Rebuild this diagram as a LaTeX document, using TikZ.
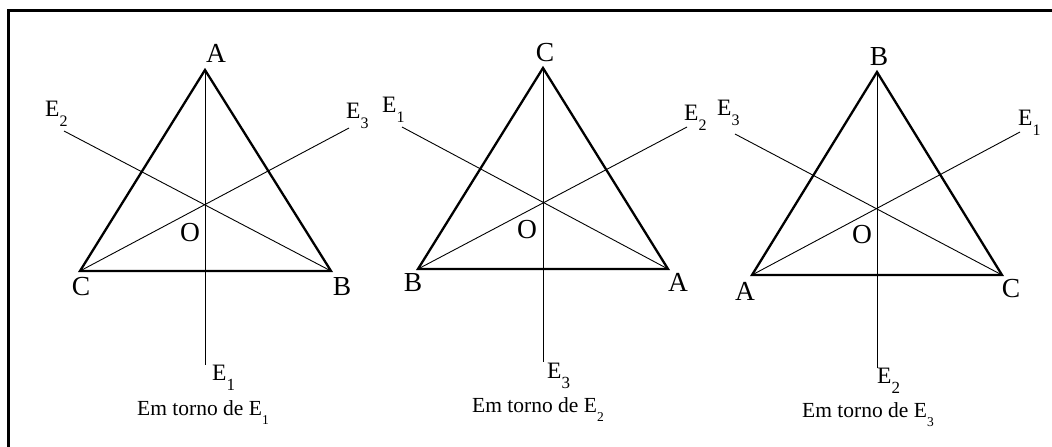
\documentclass[tikz,border=0pt]{standalone}
\usepackage{fontspec}
\setmainfont{Liberation Serif}
\newcommand{\Esub}[2][16]{E\raisebox{-0.45em}{\fontsize{#1}{#1}\selectfont #2}}
\begin{document}
\begin{tikzpicture}[x=1pt,y=-1pt,
  tri/.style={line width=2.3pt, line join=miter},
  axisline/.style={line width=0.9pt},
  vlab/.style={font=\fontsize{27.5}{27.5}\selectfont, inner sep=0pt},
  elab/.style={font=\fontsize{23.5}{23.5}\selectfont, inner sep=0pt, anchor=base west},
  caplab/.style={font=\fontsize{21.5}{21.5}\selectfont, inner sep=0pt, anchor=base}]
\useasboundingbox (0,0) rectangle (1052,447);
% frame
\coordinate (fbl) at (8.7,447);
\coordinate (ftl) at (8.7,10.5);
\coordinate (ftr) at (1052,10.5);
\draw[line width=2.6pt] (fbl) -- (ftl) -- (ftr);

% ---------- triangle 1 ----------
\coordinate (A1) at (205,70);
\coordinate (B1) at (331,271);
\coordinate (C1) at (80,271);
\coordinate (v1) at (205,365);
\coordinate (l1) at (64,131);
\coordinate (r1) at (349,128);
\draw[axisline] (A1) -- (v1);
\draw[axisline] (l1) -- (B1);
\draw[axisline] (C1) -- (r1);
\draw[tri] (A1) -- (B1) -- (C1) -- cycle;
\node[vlab] (tA1) at (216,53) {A};
\node[vlab] (tB1) at (342,287) {B};
\node[vlab] (tC1) at (81,287) {C};
\node[vlab] (tO1) at (190,233) {O};
\node[elab] (e12) at (45,116) {\Esub{2}};
\node[elab] (e13) at (346,118) {\Esub{3}};
\node[elab] (e11) at (212,380) {\Esub[17]{1}};
\node[caplab] (cap1) at (203,415) {Em torno de \Esub[13.5]{1}};

% ---------- triangle 2 ----------
\coordinate (C2) at (543,68);
\coordinate (B2) at (418,269);
\coordinate (A2) at (668,269);
\coordinate (v2) at (543,362);
\coordinate (l2) at (402,127);
\coordinate (r2) at (687,127);
\draw[axisline] (C2) -- (v2);
\draw[axisline] (l2) -- (A2);
\draw[axisline] (B2) -- (r2);
\draw[tri] (C2) -- (A2) -- (B2) -- cycle;
\node[vlab] (tC2) at (545,53) {C};
\node[vlab] (tB2) at (413,283) {B};
\node[vlab] (tA2) at (678,282) {A};
\node[vlab] (tO2) at (527,230) {O};
\node[elab] (e21) at (382,112) {\Esub{1}};
\node[elab] (e22) at (684,120) {\Esub{2}};
\node[elab] (e23) at (547,378) {\Esub[17]{3}};
\node[caplab] (cap2) at (538,412) {Em torno de \Esub[13.5]{2}};

% ---------- triangle 3 ----------
\coordinate (B3) at (877,72);
\coordinate (A3) at (752,275);
\coordinate (C3) at (1002,275);
\coordinate (v3) at (877,368);
\coordinate (l3) at (735,134);
\coordinate (r3) at (1020,132);
\draw[axisline] (B3) -- (v3);
\draw[axisline] (l3) -- (C3);
\draw[axisline] (A3) -- (r3);
\draw[tri] (B3) -- (C3) -- (A3) -- cycle;
\node[vlab] (tB3) at (879,57) {B};
\node[vlab] (tA3) at (745,291) {A};
\node[vlab] (tC3) at (1011,289) {C};
\node[vlab] (tO3) at (862,235) {O};
\node[elab] (e33) at (717,115) {\Esub{3}};
\node[elab] (e31) at (1018,125) {\Esub{1}};
\node[elab] (e32) at (877,383) {\Esub[17]{2}};
\node[caplab] (cap3) at (868,417) {Em torno de \Esub[13.5]{3}};
\end{tikzpicture}
\end{document}
